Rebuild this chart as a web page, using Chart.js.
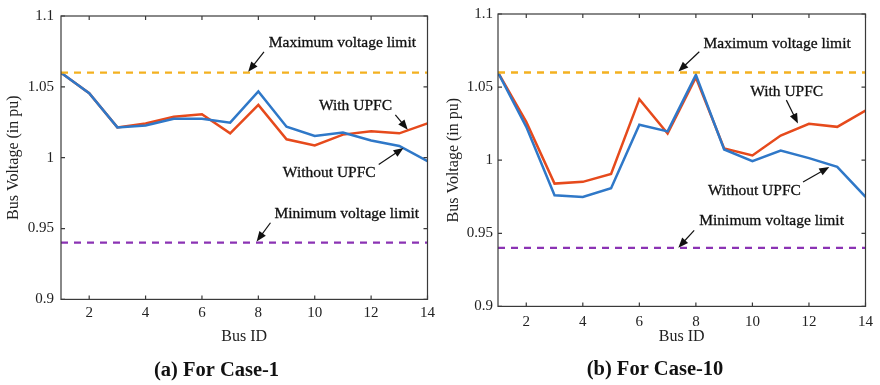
<!DOCTYPE html>
<html>
<head>
<meta charset="utf-8">
<title>Bus voltage profile</title>
<script src="https://cdn.jsdelivr.net/npm/chart.js@4.4.1/dist/chart.umd.min.js"></script>
<style>
  html, body { margin: 0; padding: 0; background: #fff; }
  #wrap { position: relative; width: 880px; height: 385px; overflow: hidden; }
  #wrap canvas { position: absolute; top: 0; }
  #chartCase1 { left: 0; }
  #chartCase10 { left: 440px; }
</style>
</head>
<body>
<div id="wrap">
  <canvas id="chartCase1" width="440" height="385"></canvas>
  <canvas id="chartCase10" width="440" height="385"></canvas>
</div>
<script>
const busIds = [1, 2, 3, 4, 5, 6, 7, 8, 9, 10, 11, 12, 13, 14];
const xTicks = [2, 4, 6, 8, 10, 12, 14];
const yTicks = [0.9, 0.95, 1, 1.05, 1.1];
const maxLimit = 1.06;
const minLimit = 0.94;

const case1Without = [1.06, 1.0455, 1.0214, 1.0228, 1.0275, 1.0275, 1.0247, 1.0467, 1.0219, 1.0153, 1.0177, 1.0121, 1.0083, 0.9975];
const case1With    = [1.06, 1.0455, 1.0214, 1.0242, 1.0289, 1.0307, 1.0172, 1.0373, 1.0130, 1.0086, 1.0163, 1.0186, 1.0172, 1.0242];
const case10Without = [1.06, 1.0228, 0.9760, 0.9749, 0.9808, 1.0242, 1.0197, 1.0584, 1.0073, 0.9993, 1.0066, 1.0014, 0.9954, 0.9749];
const case10With    = [1.06, 1.0262, 0.9840, 0.9852, 0.9906, 1.0418, 1.0183, 1.0566, 1.0080, 1.0032, 1.0169, 1.0249, 1.0228, 1.0340];

// [text, textX, textY, tailX, tailY, tipX, tipY] in bus / pu units
const case1Notes = [
    ['Maximum voltage limit', 8.37, 1.0813, 8.20, 1.0747, 7.64, 1.0606],
    ['With UPFC', 10.15, 1.0368, 12.86, 1.0303, 13.30, 1.0198],
    ['Without UPFC', 8.87, 0.9893, 12.27, 0.9952, 13.15, 1.0069],
    ['Minimum voltage limit', 8.57, 0.9606, 8.43, 0.9541, 7.94, 0.9409]
];
const case10Notes = [
    ['Maximum voltage limit', 8.27, 1.0795, 8.12, 1.0742, 7.38, 1.0606],
    ['With UPFC', 9.92, 1.0468, 11.20, 1.0411, 11.61, 1.0251],
    ['Without UPFC', 8.43, 0.9790, 11.79, 0.9851, 12.72, 0.9954],
    ['Minimum voltage limit', 8.12, 0.9584, 7.94, 0.9520, 7.38, 0.9402]
];
const notesByChart = { chartCase1: case1Notes, chartCase10: case10Notes };

const FONT = '"Liberation Serif", "Times New Roman", serif';

const framePlugin = {
    id: 'frame',
    afterDatasetsDraw(chart) {
        const { ctx, chartArea: a, scales } = chart;
        const xs = scales.x, ys = scales.y;
        ctx.save();
        ctx.strokeStyle = '#3a3a3a';
        ctx.lineWidth = 1.2;
        ctx.strokeRect(a.left, a.top, a.right - a.left, a.bottom - a.top);
        ctx.beginPath();
        xs.ticks.forEach(t => {
            const px = xs.getPixelForValue(t.value);
            ctx.moveTo(px, a.bottom); ctx.lineTo(px, a.bottom - 4);
            ctx.moveTo(px, a.top); ctx.lineTo(px, a.top + 4);
        });
        ys.ticks.forEach(t => {
            const py = ys.getPixelForValue(t.value);
            ctx.moveTo(a.left, py); ctx.lineTo(a.left + 4, py);
            ctx.moveTo(a.right, py); ctx.lineTo(a.right - 4, py);
        });
        ctx.stroke();

        // labels and arrows
        const notes = notesByChart[chart.canvas.id] || [];
        ctx.font = '15.5px ' + FONT;
        ctx.fillStyle = '#111';
        ctx.strokeStyle = '#111';
        ctx.textBaseline = 'middle';
        ctx.textAlign = 'left';
        notes.forEach(n => {
            const tx = xs.getPixelForValue(n[1]), ty = ys.getPixelForValue(n[2]);
            ctx.lineWidth = 0.3;
            ctx.fillText(n[0], tx, ty);
            ctx.strokeText(n[0], tx, ty);
            const x0 = xs.getPixelForValue(n[3]), y0 = ys.getPixelForValue(n[4]);
            const x1 = xs.getPixelForValue(n[5]), y1 = ys.getPixelForValue(n[6]);
            const ang = Math.atan2(y1 - y0, x1 - x0);
            const c = Math.cos(ang), s = Math.sin(ang);
            ctx.lineWidth = 1.2;
            ctx.beginPath();
            ctx.moveTo(x0, y0);
            ctx.lineTo(x1 - 7 * c, y1 - 7 * s);
            ctx.stroke();
            ctx.beginPath();
            ctx.moveTo(x1, y1);
            ctx.lineTo(x1 - 10 * c + 4 * s, y1 - 10 * s - 4 * c);
            ctx.lineTo(x1 - 10 * c - 4 * s, y1 - 10 * s + 4 * c);
            ctx.closePath();
            ctx.fill();
        });
        ctx.restore();
    }
};

function toPoints(values) {
    return busIds.map((b, i) => ({ x: b, y: values[i] }));
}

function limitLine(v) {
    return [{ x: busIds[0], y: v }, { x: busIds[busIds.length - 1], y: v }];
}

function makeChart(id, withData, withoutData, title, lay) {
    const ctx = document.getElementById(id).getContext('2d');
    return new Chart(ctx, {
        type: 'line',
        data: {
            datasets: [
                { label: 'Maximum voltage limit', data: limitLine(maxLimit), borderColor: '#f4b120', borderWidth: 2.3, borderDash: [7, 6], pointRadius: 0 },
                { label: 'Minimum voltage limit', data: limitLine(minLimit), borderColor: '#8b33b4', borderWidth: 2.3, borderDash: [7, 6], pointRadius: 0 },
                { label: 'Without UPFC', data: toPoints(withoutData), borderColor: '#2f78c8', borderWidth: 2.5, pointRadius: 0, tension: 0 },
                { label: 'With UPFC', data: toPoints(withData), borderColor: '#e64a1c', borderWidth: 2.5, pointRadius: 0, tension: 0 }
            ]
        },
        options: {
            responsive: false,
            animation: false,
            layout: { padding: { top: 14, right: lay.padRight, left: 0, bottom: 0 } },
            plugins: {
                legend: { display: false },
                tooltip: { enabled: false },
                title: {
                    display: true,
                    position: 'bottom',
                    text: title,
                    color: '#111',
                    font: { family: FONT, size: 20.5, weight: 'bold' },
                    padding: lay.titlePad
                }
            },
            scales: {
                x: {
                    type: 'linear',
                    min: 1,
                    max: 14,
                    afterBuildTicks: s => { s.ticks = xTicks.map(v => ({ value: v })); },
                    afterFit: s => { s.height = lay.xHeight; },
                    grid: { display: false, drawTicks: false },
                    border: { display: false },
                    ticks: { color: '#222', padding: lay.xTickPad, font: { family: FONT, size: 15 }, callback: v => String(v) },
                    title: { display: true, text: 'Bus ID', color: '#222', font: { family: FONT, size: 16 }, padding: { top: 0, bottom: lay.xTitlePad } }
                },
                y: {
                    min: 0.9,
                    max: 1.1,
                    afterBuildTicks: s => { s.ticks = yTicks.map(v => ({ value: v })); },
                    afterFit: s => { s.width = lay.yWidth; },
                    grid: { display: false, drawTicks: false },
                    border: { display: false },
                    ticks: { color: '#222', padding: lay.yTickPad, font: { family: FONT, size: 15 }, callback: v => String(v) },
                    title: { display: true, text: 'Bus Voltage (in pu)', color: '#222', font: { family: FONT, size: 16 }, padding: { top: 4, bottom: 0 } }
                }
            }
        },
        plugins: [framePlugin]
    });
}

makeChart('chartCase1', case1With, case1Without, '(a) For Case-1',
    { yWidth: 61, padRight: 7, xHeight: 59, titlePad: { top: 0, bottom: 2 }, xTitlePad: 12, xTickPad: 5, yTickPad: 7 });
makeChart('chartCase10', case10With, case10Without, '(b) For Case-10',
    { yWidth: 58, padRight: 10, xHeight: 51, titlePad: { top: 0, bottom: 3 }, xTitlePad: 11, xTickPad: 7, yTickPad: 5 });
</script>
</body>
</html>
